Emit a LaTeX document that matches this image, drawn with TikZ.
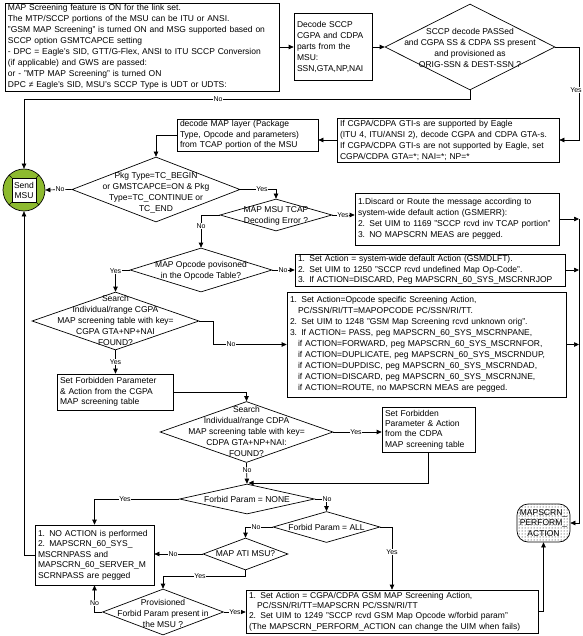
\documentclass[tikz,border=0pt]{standalone}
\usepackage{fontspec}
\setmainfont{Liberation Sans}
\usetikzlibrary{shapes.geometric,arrows.meta,patterns.meta}
\newcommand\fnorm{\fontsize{8.5}{11}\selectfont}
\newcommand\ftight{\fontsize{8.5}{10.4}\selectfont}
\newcommand\flbl{\fontsize{7}{8}\selectfont}
\definecolor{btngreen}{RGB}{141,186,47}
\begin{document}
\begin{tikzpicture}[x=1pt,y=-1pt, >={Triangle[length=5pt,width=4.5pt]}, line width=0.7pt,
  box/.style={draw, fill=white, align=left, inner xsep=3pt, inner ysep=0pt, font=\fnorm},
  dia/.style={draw, fill=white, diamond, inner sep=0pt},
  dtext/.style={align=center, inner sep=0pt, font=\fnorm},
  lbl/.style={fill=white, inner sep=0.6pt, font=\flbl}]
\useasboundingbox (0,0) rectangle (582,636);

% ---------- boxes ----------
\node[box, minimum width=274pt, text width=268pt, minimum height=88pt] (topb) at (142,47)
 {MAP Screening  feature is ON for the link set.\\
  The MTP/SCCP portions of the MSU can be ITU or ANSI.\\
  "GSM MAP Screening" is turned ON and MSG supported based on\\
  SCCP option GSMTCAPCE setting\\
  - DPC = Eagle's SID, GTT/G-Flex, ANSI to ITU SCCP Conversion\\
  (if applicable) and GWS are passed:\\
  or - "MTP MAP Screening" is turned ON\\
  DPC ≠ Eagle's SID, MSU's SCCP Type is UDT or UDTS:};

\node[box, minimum width=78pt, text width=72pt, minimum height=67pt] (dec) at (333,47)
 {Decode SCCP\\CGPA and CDPA\\parts from the\\MSU:\\SSN,GTA,NP,NAI};

\node[dia, minimum width=170pt, minimum height=86pt] (d1) at (470,47) {};
\node[dtext] (d1t) at (470,47.5) {SCCP decode PASSed\\and CGPA SS \& CDPA SS present\\and provisioned as\\ORIG-SSN \& DEST-SSN ?};

\node[box, minimum width=222pt, text width=216pt, minimum height=44pt] (gti) at (448,140)
 {If CGPA/CDPA GTI-s are supported by Eagle\\
  (ITU 4, ITU/ANSI 2), decode CGPA and CDPA GTA-s.\\
  If CGPA/CDPA GTI-s are not supported by Eagle, set\\
  CGPA/CDPA GTA=*; NAI=*; NP=*};

\node[box, minimum width=141pt, text width=135pt, minimum height=32pt, font=\ftight] (dmap) at (247.5,135)
 {decode MAP layer (Package\\Type, Opcode and parameters)\\from TCAP portion of the MSU};

% Send MSU button
\node[circle, draw, fill=btngreen, minimum size=42pt, inner sep=0pt] (msu) at (24,190) {};
\node[draw, fill=white, minimum size=24pt, inner sep=0pt, align=center, font=\fontsize{8.5}{10}\selectfont] (msusq) at (msu) {Send\\MSU};
\draw (msusq.north east) -- (msu.45);
\draw (msusq.north west) -- (msu.135);
\draw (msusq.south west) -- (msu.225);
\draw (msusq.south east) -- (msu.315);

\node[dia, minimum width=168pt, minimum height=65pt] (d2) at (156,189.5) {};
\node[dtext] (d2t) at (156,192.5) {Pkg Type=TC\_BEGIN\\or GMSTCAPCE=ON \& Pkg\\Type=TC\_CONTINUE or\\TC\_END};

\node[dia, minimum width=112pt, minimum height=32pt] (d3) at (276,215) {};
\node[dtext] (d3t) at (276,215.5) {MAP MSU TCAP\\Decoding Error ?};

\node[box, minimum width=204pt, text width=198pt, minimum height=52pt] (disc) at (457,219)
 {1.Discard or Route the message according to\\
  system-wide default action (GSMERR):\\
  2. Set UIM to 1169 "SCCP rcvd inv TCAP portion"\\
  3. NO MAPSCRN MEAS are pegged.};

\node[dia, minimum width=142pt, minimum height=44pt] (d4) at (201,270) {};
\node[dtext] (d4t) at (201,271) {MAP Opcode povisoned\\in the Opcode Table?};

\node[box, minimum width=270pt, text width=264pt, minimum height=32pt, font=\fontsize{8.5}{10.3}\selectfont] (deflt) at (430,270)
 {1. Set Action = system-wide default Action (GSMDLFT).\\
  2. Set UIM to 1250 "SCCP rcvd undefined Map Op-Code".\\
  3. If ACTION=DISCARD, Peg MAPSCRN\_60\_SYS\_MSCRNRJOP};

\node[dia, minimum width=167pt, minimum height=58pt] (d5) at (115.5,321) {};
\node[dtext] (d5t) at (115.5,320.5) {Search\\Individual/range CGPA\\MAP screening table with key=\\CGPA GTA+NP+NAI\\FOUND?};

\node[box, minimum width=279pt, text width=273pt, minimum height=105pt] (opc) at (426.5,344.5)
 {1. Set Action=Opcode specific Screening Action,\\
  \hspace*{8pt}PC/SSN/RI/TT=MAPOPCODE PC/SSN/RI/TT.\\
  2. Set UIM  to 1248 "GSM Map Screening rcvd unknown orig".\\
  3. If ACTION= PASS, peg MAPSCRN\_60\_SYS\_MSCRNPANE,\\
  \hspace*{8pt}if ACTION=FORWARD, peg MAPSCRN\_60\_SYS\_MSCRNFOR,\\
  \hspace*{8pt}if ACTION=DUPLICATE, peg MAPSCRN\_60\_SYS\_MSCRNDUP,\\
  \hspace*{8pt}if ACTION=DUPDISC, peg MAPSCRN\_60\_SYS\_MSCRNDAD,\\
  \hspace*{8pt}if ACTION=DISCARD, peg MAPSCRN\_60\_SYS\_MSCRNJNE,\\
  \hspace*{8pt}if ACTION=ROUTE, no MAPSCRN MEAS are pegged.};

\node[box, minimum width=116pt, text width=110pt, minimum height=36pt, font=\ftight] (fcg) at (115,392)
 {Set Forbidden Parameter\\\& Action from the CGPA\\MAP screening  table};

\node[dia, minimum width=173pt, minimum height=61pt] (d6) at (246.5,432) {};
\node[dtext] (d6t) at (246.5,431.5) {Search\\Individual/range CDPA\\MAP screening table with key=\\CDPA GTA+NP+NAI:\\FOUND?};

\node[box, minimum width=93pt, text width=87pt, minimum height=45pt, font=\ftight] (fcd) at (428.5,429.5)
 {Set Forbidden\\Parameter \& Action\\from the CDPA\\MAP screening  table};

\node[dia, minimum width=135pt, minimum height=30pt] (d7) at (247,499) {};
\node[dtext] (d7t) at (247,499) {Forbid Param = NONE};

\node[dia, minimum width=107pt, minimum height=31pt] (d8) at (326.5,527) {};
\node[dtext] (d8t) at (326.5,527) {Forbid Param = ALL};

\node[dia, minimum width=85pt, minimum height=32pt] (d9) at (245.5,554) {};
\node[dtext] (d9t) at (245.5,554) {MAP ATI MSU?};

\node[box, minimum width=119pt, text width=113pt, minimum height=60pt, font=\ftight] (noact) at (94.5,555)
 {1. NO ACTION is performed\\2. MAPSCRN\_60\_SYS\_\\MSCRNPASS  and\\MAPSCRN\_60\_SERVER\_M\\SCRNPASS are pegged};

\node[dia, minimum width=121pt, minimum height=46pt] (d10) at (163,612) {};
\node[dtext] (d10t) at (163,613) {Provisioned\\Forbid Param present in\\the  MSU ?};

\node[box, minimum width=292pt, text width=286pt, minimum height=43pt, font=\ftight] (fin) at (392,611.5)
 {1. Set Action = CGPA/CDPA GSM MAP Screening Action,\\
  \hspace*{8pt}PC/SSN/RI/TT=MAPSCRN PC/SSN/RI/TT\\
  2. Set UIM to 1249 "SCCP rcvd GSM Map Opcode w/forbid param"\\
  (The MAPSCRN\_PERFORM\_ACTION can change the UIM when fails)};

\node[draw, rounded corners=11pt, minimum width=53pt, minimum height=38pt, inner sep=0pt, align=center,
      pattern={Dots[radius=0.5pt,distance=3pt]}, pattern color=black,
      font=\fontsize{8.5}{10.5}\selectfont] (perf) at (543.5,523) {MAPSCRN\_\\PERFORM\_\\ACTION};

% ---------- connectors ----------
\coordinate (rb) at (579,0);
\coordinate (ytop) at (0,99);
\coordinate (j7) at (248.5,483);

\draw[->] (topb.east) -- (topb.east -| dec.west);
\draw[->] (dec.east) -- (d1.west);
\draw[->] (d1.east) -- (d1.east -| rb) -- (rb |- gti.east) -- (gti.east);
\node[lbl] (yes1) at (576,90) {Yes};
\draw[->] (d1.south) -- (d1.south |- ytop) -- (ytop -| msu.north) -- (msu.north);
\node[lbl] (no1) at (218,99) {No};
\draw[->] (gti.west) -- (gti.west -| dmap.east);
\draw[->] (dmap.west) -| (d2.north);
\draw[->] (d2.west) -- (msu.east);
\node[lbl] (no2) at (60,189.5) {No};
\draw[->] (d2.east) -| (d3.north);
\node[lbl] (yes2) at (262,189.5) {Yes};
\draw[->] (d3.east) -- (d3.east -| disc.west);
\node[lbl] (yes3) at (343,215) {Yes};
\draw[->] (d3.west) -| (d4.north);
\node[lbl] (no3) at (201,226) {No};
\draw[->] (d4.east) -- (d4.east -| deflt.west);
\node[lbl] (no4) at (283,270) {No};
\draw[->] (d4.west) -| (d5.north);
\node[lbl] (yes4) at (115.5,271) {Yes};
\draw[->] (d5.east) -- ++(14,0) |- (opc.west);
\node[lbl] (no5) at (231,344.5) {No};
\draw[->] (d5.south) -- (d5.south |- fcg.north);
\node[lbl] (yes5) at (115.5,362) {Yes};
\draw[->] (fcg.east) -| (d6.north);
\draw[->] (d6.east) -- (d6.east -| fcd.west);
\node[lbl] (yes6) at (356,432) {Yes};
\draw[->] (d6.south) -- (d7.north);
\node[lbl] (no6) at (247,470) {No};
\draw[->] (fcd.south) |- (j7);
\draw[->] (d7.east) -| (d8.north);
\node[lbl] (no7) at (327,499) {No};
\draw[->] (d7.west) -| (noact.north);
\node[lbl] (yes7) at (125,499) {Yes};
\draw[->] (d8.west) -| (d9.north);
\node[lbl] (no8) at (256,527) {No};
\draw[->] (d8.east) -| (fin.north);
\node[lbl] (yes8) at (392,552) {Yes};
\draw[->] (d9.west) -- (noact.east |- d9.west);
\node[lbl] (no9) at (173,554) {No};
\draw[->] (d9.south) -- ++(0,6) -| (d10.north);
\node[lbl] (yes9) at (200,576) {Yes};
\draw[->] (d10.west) -| (noact.south);
\node[lbl] (no10) at (94.5,603) {No};
\draw[->] (d10.east) -- (d10.east -| fin.west);
\node[lbl] (yes10) at (235,612) {Yes};
\draw[->] (noact.west) -| (msu.south);
\draw[->] (fin.east) -| (perf.south);
\draw[->] (disc.east) -- (disc.east -| rb);
\draw[->] (deflt.east) -- (deflt.east -| rb);
\draw[->] (opc.east) -- (opc.east -| rb);
\draw[->] (disc.east -| rb) -- (rb |- perf.east) -- (perf.east);
\end{tikzpicture}
\end{document}
